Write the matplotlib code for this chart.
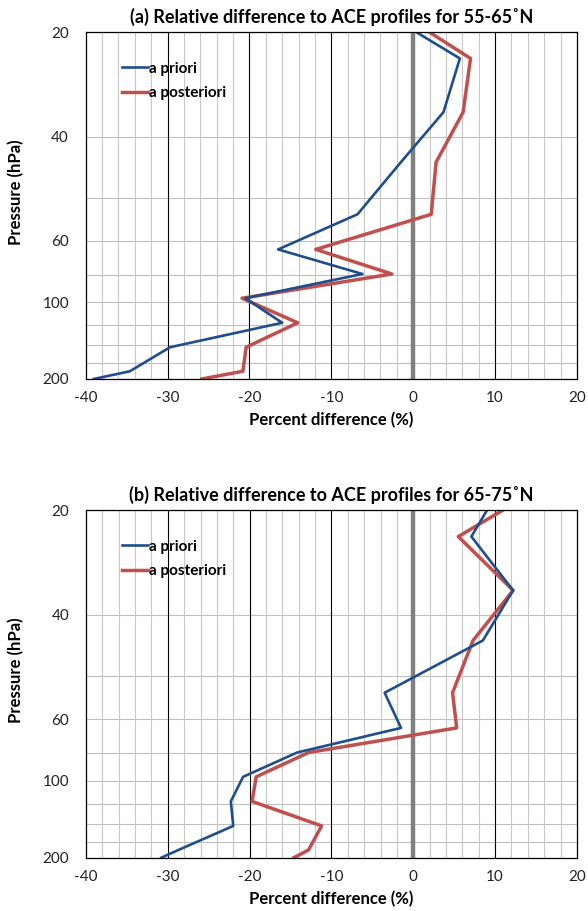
import numpy as np
import matplotlib
matplotlib.use("Agg")
import matplotlib.pyplot as plt

plt.rcParams['font.family'] = ['Lato', 'DejaVu Sans']

# 数据：气压层 (hPa) 与相对差 (%)
levels = [20, 23.8, 34.0, 47.4, 67.0, 84.6, 99.6, 117, 137.7, 162, 190, 200]

prior_a = [0.4, 5.7, 3.7, -1.5, -6.8, -16.5, -6.2, -20.5, -16.0, -29.7, -34.6, -39.0]
post_a = [2.0, 7.0, 6.1, 2.8, 2.2, -11.9, -2.6, -20.9, -14.1, -20.4, -20.8, -25.8]

prior_b = [9.0, 7.1, 12.2, 8.5, -3.5, -1.5, -14.2, -20.8, -22.3, -22.0, -28.7, -30.8]
post_b = [10.9, 5.5, 12.2, 7.3, 4.8, 5.3, -12.8, -19.2, -19.7, -11.2, -12.8, -14.6]

titles = ["(a) Relative difference to ACE profiles for 55-65\u02daN",
          "(b) Relative difference to ACE profiles for 65-75\u02daN"]

ytick_pos = [20, 40, 80, 120, 200]
ytick_labels = ['20', '40', '60', '100', '200']
hgrid = list(range(20, 201, 20))
xticks = list(range(-40, 21, 10))

blue = '#1F4E8C'
red = '#C0504D'

fig = plt.figure(figsize=(5.88, 9.11), dpi=100)
ax_a = fig.add_axes([0.1457, 0.584, 0.8355, 0.3806])
ax_b = fig.add_axes([0.1462, 0.0585, 0.835, 0.3813])


def draw(ax, prior, post, title):
    ax.set_yscale('log')
    ax.set_xlim(-40, 20)
    ax.set_ylim(200, 20)

    # 网格线
    for p in hgrid:
        ax.axhline(p, color='#BFBFBF', lw=0.8, zorder=1)
    for x in range(-40, 21, 2):
        if x % 10 != 0:
            ax.axvline(x, color='#C8C8C8', lw=0.8, zorder=1)
    for x in [-30, -20, -10, 10]:
        ax.axvline(x, color='black', lw=0.8, zorder=2)
    ax.axvline(0, color='#808080', lw=3.2, zorder=3)

    ax.plot(prior, levels, color=blue, lw=1.9, label='a priori', zorder=5)
    ax.plot(post, levels, color=red, lw=2.5, label='a posteriori', zorder=4)

    ax.set_yticks(ytick_pos)
    ax.set_yticklabels(ytick_labels)
    ax.yaxis.set_minor_locator(matplotlib.ticker.NullLocator())
    ax.set_xticks(xticks)
    ax.set_xticklabels([str(x) for x in xticks])
    ax.tick_params(axis='y', length=0, pad=12, labelsize=11, colors='#222222')
    ax.tick_params(axis='x', length=0, pad=9, labelsize=11, colors='#222222')
    for s in ax.spines.values():
        s.set_color('black')
        s.set_linewidth(0.9)
        s.set_zorder(6)

    ax.set_title(title, fontsize=13, fontweight='bold', pad=7)
    ax.set_xlabel('Percent difference (%)', fontsize=12, fontweight='bold', labelpad=5)
    ax.set_ylabel('Pressure (hPa)', fontsize=12, fontweight='bold')
    ax.yaxis.set_label_coords(-0.125, 0.54)

    h, l = ax.get_legend_handles_labels()
    leg = ax.legend(h, l, loc='upper left', bbox_to_anchor=(0.045, 0.955), frameon=False,
                    handlelength=1.7, handletextpad=0.1, labelspacing=0.7,
                    prop={'weight': 'bold', 'size': 11})
    leg.set_zorder(7)


draw(ax_a, prior_a, post_a, titles[0])
draw(ax_b, prior_b, post_b, titles[1])

fig.savefig('out.png', dpi=100)
